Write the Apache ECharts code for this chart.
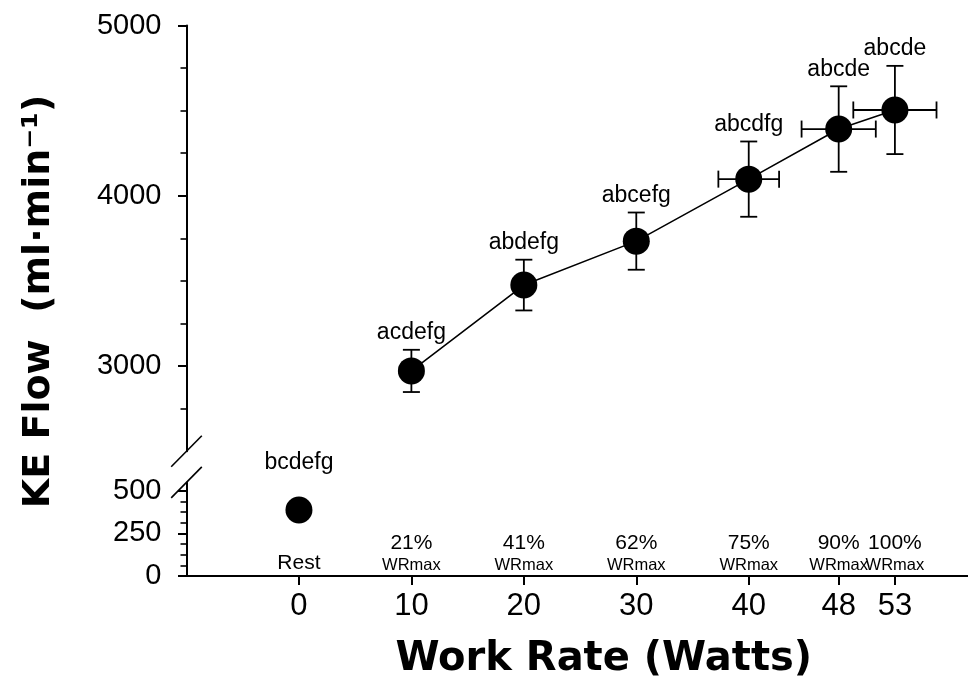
<!DOCTYPE html>
<html><head><meta charset="utf-8">
<script src="https://cdn.jsdelivr.net/npm/echarts@6/dist/echarts.min.js"></script>
<style>html,body{margin:0;padding:0;background:#fff}#c{width:968px;height:688px}</style>
</head><body><div id="c"></div>
<script>
// ---- data ----
const workRates = [10, 20, 30, 40, 48, 53];
const keFlow = [2972, 3476, 3734, 4098, 4392, 4504];
const keFlowSD = [124, 149, 168, 221, 251, 259];
const workRateSD = [0, 0, 0, 2.7, 3.3, 3.7];
const sigLabels = ['acdefg', 'abdefg', 'abcefg', 'abcdfg', 'abcde', 'abcde'];
const restWork = [0];
const restFlow = [388];
const restLabel = 'bcdefg';
const xTicks = [0, 10, 20, 30, 40, 48, 53];
const pctLabels = ['Rest', '21%', '41%', '62%', '75%', '90%', '100%'];
const pctSub = ['', 'WRmax', 'WRmax', 'WRmax', 'WRmax', 'WRmax', 'WRmax'];
const upperMajor = [3000, 4000, 5000];
const upperMinor = [2750, 3000, 3250, 3500, 3750, 4000, 4250, 4500, 4750, 5000];
const lowerMajor = [0, 250, 500];
const lowerMinor = [0, 62.5, 125, 187.5, 250, 312.5, 375, 437.5, 500];
const xTitle = 'Work Rate (Watts)';
const yTitle = 'KE Flow  (ml·min⁻¹)';

const FONT = 'Liberation Sans, Arial, Helvetica, sans-serif';
const TFONT = 'DejaVu Sans, Verdana, sans-serif';
const BLACK = '#000';
const X_MIN = -10, X_MAX = 59.5;

const chart = echarts.init(document.getElementById('c'), null, {renderer: 'canvas'});

const mainData = workRates.map((x, i) => [x, keFlow[i]]);
const errData = workRates.map((x, i) => [x, keFlow[i], keFlowSD[i], workRateSD[i]]);
const restData = restWork.map((x, i) => [x, restFlow[i]]);
const pctData = xTicks.map((x) => [x, 0]);

const lineStyle = {stroke: BLACK, lineWidth: 1.8};
const plain = v => String(v);

const option = {
  backgroundColor: '#fff',
  animation: false,
  textStyle: {fontFamily: FONT, color: BLACK},
  grid: [
    {left: 186.5, right: 0, top: 25.5, height: 425.8, outerBoundsMode: 'none', containLabel: false},
    {left: 186.5, right: 0, top: 482.4, height: 93.6, outerBoundsMode: 'none', containLabel: false}
  ],
  xAxis: [
    {gridIndex: 0, type: 'value', min: X_MIN, max: X_MAX, show: false},
    {
      gridIndex: 1, type: 'value', min: X_MIN, max: X_MAX, position: 'bottom',
      axisLine: {onZero: false, lineStyle: {color: BLACK, width: 2}},
      axisTick: {customValues: xTicks, length: 9, lineStyle: {color: BLACK, width: 2}},
      axisLabel: {customValues: xTicks, fontSize: 31, color: BLACK, margin: 15, fontFamily: FONT, formatter: plain,
        hideOverlap: false, showMinLabel: true, showMaxLabel: true},
      splitLine: {show: false},
      name: xTitle, nameLocation: 'middle', nameGap: 64,
      nameTextStyle: {fontFamily: TFONT, fontWeight: 'bold', fontSize: 40, color: BLACK, padding: [0, 0, 0, 53]}
    }
  ],
  yAxis: [
    {
      gridIndex: 0, type: 'value', min: 2500, max: 5000, position: 'left',
      axisLine: {onZero: false, lineStyle: {color: BLACK, width: 2}},
      axisTick: {customValues: upperMajor, length: 8.5, lineStyle: {color: BLACK, width: 2}},
      axisLabel: {customValues: upperMajor, fontSize: 29, color: BLACK, margin: 25, fontFamily: FONT, formatter: plain,
        showMinLabel: true, showMaxLabel: true},
      splitLine: {show: false},
      name: yTitle, nameLocation: 'middle', nameRotate: 90, nameGap: 128,
      nameTextStyle: {fontFamily: TFONT, fontWeight: 'bold', fontSize: 38, color: BLACK, padding: [0, 126, 0, 0]}
    },
    {
      gridIndex: 0, type: 'value', min: 2500, max: 5000, position: 'left',
      axisLine: {show: false, onZero: false},
      axisTick: {customValues: upperMinor, length: 6, lineStyle: {color: BLACK, width: 1.6}},
      axisLabel: {show: false}, splitLine: {show: false}
    },
    {
      gridIndex: 1, type: 'value', min: 0, max: 550, position: 'left',
      axisLine: {onZero: false, lineStyle: {color: BLACK, width: 2}},
      axisTick: {customValues: lowerMajor, length: 8.5, lineStyle: {color: BLACK, width: 2}},
      axisLabel: {customValues: lowerMajor, fontSize: 29, color: BLACK, margin: 25, fontFamily: FONT, formatter: plain,
        showMinLabel: true, showMaxLabel: true},
      splitLine: {show: false}
    },
    {
      gridIndex: 1, type: 'value', min: 0, max: 550, position: 'left',
      axisLine: {show: false, onZero: false},
      axisTick: {customValues: lowerMinor, length: 6, lineStyle: {color: BLACK, width: 1.6}},
      axisLabel: {show: false}, splitLine: {show: false}
    }
  ],
  series: [
    {
      type: 'custom', xAxisIndex: 0, yAxisIndex: 0, z: 2,
      data: errData, encode: {x: 0, y: 1},
      renderItem: function (params, api) {
        const x = api.value(0), y = api.value(1), sy = api.value(2), sx = api.value(3);
        const c = api.coord([x, y]);
        const t = api.coord([x, y + sy]);
        const b = api.coord([x, y - sy]);
        const cap = 8.5;
        const ch = [
          {type: 'line', shape: {x1: c[0], y1: t[1], x2: c[0], y2: b[1]}, style: lineStyle},
          {type: 'line', shape: {x1: c[0] - cap, y1: t[1], x2: c[0] + cap, y2: t[1]}, style: lineStyle},
          {type: 'line', shape: {x1: c[0] - cap, y1: b[1], x2: c[0] + cap, y2: b[1]}, style: lineStyle}
        ];
        if (sx > 0) {
          const l = api.coord([x - sx, y]);
          const r = api.coord([x + sx, y]);
          ch.push({type: 'line', shape: {x1: l[0], y1: c[1], x2: r[0], y2: c[1]}, style: lineStyle});
          ch.push({type: 'line', shape: {x1: l[0], y1: c[1] - cap, x2: l[0], y2: c[1] + cap}, style: lineStyle});
          ch.push({type: 'line', shape: {x1: r[0], y1: c[1] - cap, x2: r[0], y2: c[1] + cap}, style: lineStyle});
        }
        ch.push({
          type: 'text', x: c[0], y: t[1] - 17,
          style: {text: sigLabels[params.dataIndex], fontSize: 23, fontFamily: FONT, fill: BLACK, align: 'center', verticalAlign: 'middle'}
        });
        return {type: 'group', children: ch};
      }
    },
    {
      type: 'line', xAxisIndex: 0, yAxisIndex: 0, z: 3,
      data: mainData, symbol: 'circle', symbolSize: 27,
      itemStyle: {color: BLACK, opacity: 1}, lineStyle: {color: BLACK, width: 1.6},
      label: {show: false}
    },
    {
      type: 'scatter', xAxisIndex: 1, yAxisIndex: 2, z: 3,
      data: restData, symbol: 'circle', symbolSize: 27,
      itemStyle: {color: BLACK, opacity: 1},
      label: {show: true, position: 'top', distance: 22, formatter: restLabel, fontSize: 23, fontFamily: FONT, color: BLACK}
    },
    {
      // %WRmax annotations sitting just above the x axis
      type: 'custom', xAxisIndex: 1, yAxisIndex: 2, z: 4, clip: false,
      data: pctData, encode: {x: 0, y: 1},
      renderItem: function (params, api) {
        const i = params.dataIndex;
        const c = api.coord([api.value(0), api.value(1)]);
        const ch = [];
        if (pctSub[i]) {
          ch.push({type: 'text', x: c[0], y: c[1] - 33,
            style: {text: pctLabels[i], fontSize: 21, fontFamily: FONT, fill: BLACK, align: 'center', verticalAlign: 'middle'}});
          ch.push({type: 'text', x: c[0], y: c[1] - 10.5,
            style: {text: pctSub[i], fontSize: 16.5, fontFamily: FONT, fill: BLACK, align: 'center', verticalAlign: 'middle'}});
        } else {
          ch.push({type: 'text', x: c[0], y: c[1] - 13,
            style: {text: pctLabels[i], fontSize: 21, fontFamily: FONT, fill: BLACK, align: 'center', verticalAlign: 'middle'}});
        }
        return {type: 'group', children: ch};
      }
    }
  ]
};
chart.setOption(option);

// axis break marks, placed from the axes' own pixel conversion
const pu = chart.convertToPixel({gridIndex: 0}, [X_MIN, 2500]);
const pl = chart.convertToPixel({gridIndex: 1}, [X_MIN, 550]);
const bs = {stroke: BLACK, lineWidth: 1.6};
chart.setOption({
  graphic: [
    {type: 'line', shape: {x1: pu[0] - 15.3, y1: pu[1] + 15.5, x2: pu[0] + 15.3, y2: pu[1] - 15.5}, style: bs},
    {type: 'line', shape: {x1: pl[0] - 15.3, y1: pl[1] + 15.5, x2: pl[0] + 15.3, y2: pl[1] - 15.5}, style: bs}
  ]
});
</script>
</body></html>
